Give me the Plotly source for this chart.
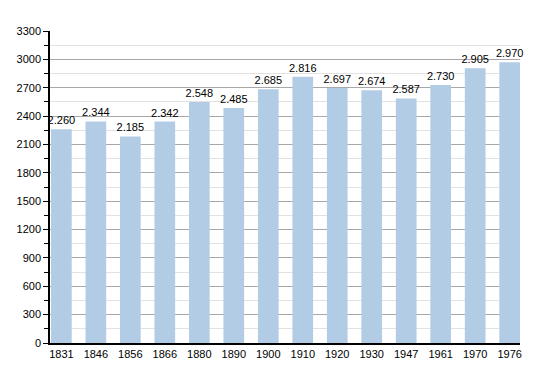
import plotly.graph_objects as go

years = ["1831", "1846", "1856", "1866", "1880", "1890", "1900", "1910",
         "1920", "1930", "1947", "1961", "1970", "1976"]
population = [2260, 2344, 2185, 2342, 2548, 2485, 2685, 2816,
              2697, 2674, 2587, 2730, 2905, 2970]

fig = go.Figure(go.Bar(
    x=list(range(len(years))),
    y=population,
    width=0.6,
    marker=dict(color="#b3cce6", line=dict(width=0)),
    texttemplate="%{y:,}",
    textposition="outside",
    constraintext="none",
    textfont=dict(family="Liberation Sans, Arial, sans-serif", size=11, color="#000"),
    cliponaxis=False,
))

fig.update_layout(
    width=550, height=373,
    margin=dict(l=50, r=30, t=31, b=30),
    paper_bgcolor="white", plot_bgcolor="white",
    separators=",.",
    showlegend=False,
    font=dict(family="Liberation Sans, Arial, sans-serif", size=11, color="#000"),
    bargap=0.4,
)
fig.update_xaxes(
    tickmode="array", tickvals=list(range(len(years))), ticktext=years,
    range=[-0.33, 13.3],
    showline=True, linecolor="#000", linewidth=1.5,
    showgrid=False, ticks="", zeroline=False,
)
fig.update_yaxes(
    range=[0, 3300], dtick=300, tick0=0,
    showline=True, linecolor="#000", linewidth=1.5,
    showgrid=True, gridcolor="#a8a8a8", gridwidth=1,
    ticks="outside", ticklen=5, tickcolor="#000",
    zeroline=False,
    minor=dict(dtick=150, showgrid=True, gridcolor="#e2e2e2", ticks="outside", ticklen=4, tickcolor="#000"),
)

fig.write_html("out.html")
